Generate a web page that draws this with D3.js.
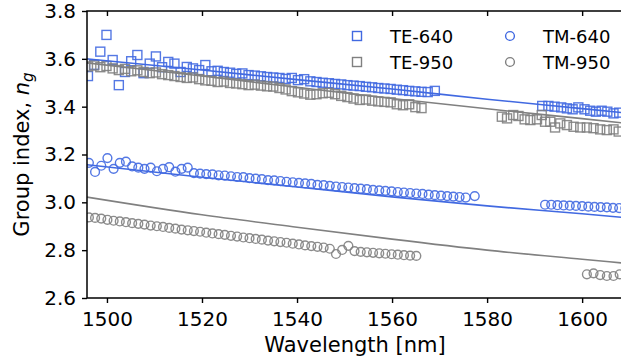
<!DOCTYPE html>
<html>
<head>
<meta charset="utf-8">
<script src="https://cdn.jsdelivr.net/npm/d3@7"></script>
<style>
  body { margin: 0; background: #fff; }
  text { font-family: 'DejaVu Sans', sans-serif; fill: #000; }
</style>
</head>
<body>
<script>
// measured group index, TE and TM, two widths
const te640Wl = [1496.0,1497.3,1498.6,1499.9,1501.2,1502.5,1503.8,1505.1,1506.4,1507.7,1509.0,1510.3,1511.6,1512.9,1514.2,1515.5,1516.8,1518.1,1519.4,1520.7,1522.0,1523.3,1524.6,1525.9,1527.2,1528.5,1529.8,1531.1,1532.4,1533.7,1535.0,1536.3,1537.6,1538.9,1540.2,1541.5,1542.8,1544.1,1545.4,1546.7,1548.0,1549.3,1550.6,1551.9,1553.2,1554.5,1555.8,1557.1,1558.4,1559.7,1561.0,1562.3,1563.6,1564.9,1566.2,1567.5,1569.0,
  1591.6,1592.9,1594.2,1595.6,1596.8,1598.0,1599.2,1600.5,1601.7,1602.9,1604.1,1605.3,1606.6,1607.8];
const te640Ng = [3.528,3.575,3.630,3.700,3.595,3.490,3.545,3.590,3.616,3.540,3.580,3.610,3.565,3.587,3.580,3.545,3.566,3.560,3.553,3.574,3.548,3.550,3.545,3.542,3.537,3.539,3.532,3.530,3.527,3.524,3.522,3.520,3.516,3.520,3.511,3.515,3.506,3.503,3.500,3.498,3.495,3.493,3.490,3.488,3.486,3.483,3.481,3.478,3.476,3.474,3.471,3.469,3.466,3.464,3.462,3.461,3.466,
  3.403,3.403,3.400,3.397,3.393,3.389,3.397,3.389,3.383,3.379,3.383,3.379,3.372,3.375];

const te950Wl = [1496.0,1497.3,1498.6,1499.9,1501.2,1502.5,1503.8,1505.1,1506.4,1507.7,1509.0,1510.3,1511.6,1512.9,1514.2,1515.5,1516.8,1518.1,1519.4,1520.7,1522.0,1523.3,1524.6,1525.9,1527.2,1528.5,1529.8,1531.1,1532.4,1533.7,1535.0,1536.3,1537.6,1538.9,1540.2,1541.5,1542.8,1544.1,1545.4,1546.7,1548.0,1549.3,1550.6,1551.9,1553.2,1554.5,1555.8,1557.1,1558.4,1559.7,1561.0,1562.3,1563.6,1564.9,1566.2,
  1583.1,1584.2,1585.5,1586.6,1587.9,1589.1,1590.5,1591.5,1592.2,1593.3,1594.3,1595.4,1596.8,1598.2,1599.6,1601.0,1602.4,1603.8,1605.2,1606.6,1607.7];
const te950Ng = [3.568,3.572,3.565,3.570,3.560,3.553,3.558,3.548,3.552,3.545,3.540,3.543,3.536,3.532,3.528,3.524,3.520,3.522,3.515,3.510,3.508,3.503,3.505,3.499,3.497,3.494,3.490,3.492,3.488,3.485,3.484,3.478,3.472,3.465,3.460,3.455,3.450,3.452,3.456,3.458,3.452,3.445,3.440,3.434,3.428,3.430,3.425,3.422,3.420,3.418,3.410,3.406,3.410,3.398,3.394,
  3.358,3.351,3.365,3.361,3.347,3.344,3.347,3.365,3.337,3.337,3.313,3.330,3.323,3.316,3.313,3.313,3.310,3.305,3.302,3.305,3.296];

const tm640Wl = [1496.2,1497.5,1498.8,1500.1,1501.4,1502.7,1504.0,1505.3,1506.6,1507.9,1509.2,1510.5,1511.8,1513.1,1514.4,1515.7,1517.0,1518.3,1519.6,1520.9,1522.2,1523.5,1524.8,1526.1,1527.4,1528.7,1530.0,1531.3,1532.6,1533.9,1535.2,1536.5,1537.8,1539.1,1540.4,1541.7,1543.0,1544.3,1545.6,1546.9,1548.2,1549.5,1550.8,1552.1,1553.4,1554.7,1556.0,1557.3,1558.6,1559.9,1561.2,1562.5,1563.8,1565.1,1566.4,1567.7,1569.0,1570.3,1571.6,1572.9,1574.2,1575.5,1577.4,
  1592.2,1593.5,1594.8,1596.1,1597.4,1598.7,1600.0,1601.3,1602.6,1603.9,1605.2,1606.5,1607.8,1609.1];
const tm640Ng = [3.165,3.127,3.153,3.185,3.140,3.165,3.170,3.150,3.145,3.140,3.145,3.130,3.140,3.147,3.128,3.140,3.145,3.122,3.120,3.118,3.117,3.113,3.112,3.109,3.106,3.105,3.101,3.099,3.097,3.093,3.092,3.089,3.086,3.084,3.081,3.079,3.077,3.073,3.072,3.069,3.066,3.064,3.062,3.059,3.057,3.055,3.052,3.050,3.048,3.046,3.043,3.041,3.039,3.037,3.035,3.032,3.030,3.028,3.026,3.024,3.022,3.020,3.026,
  2.990,2.990,2.988,2.987,2.986,2.985,2.984,2.982,2.981,2.980,2.979,2.977,2.976,2.975];

const tm950Wl = [1496.2,1497.5,1498.8,1500.1,1501.4,1502.7,1504.0,1505.3,1506.6,1507.9,1509.2,1510.5,1511.8,1513.1,1514.4,1515.7,1517.0,1518.3,1519.6,1520.9,1522.2,1523.5,1524.8,1526.1,1527.4,1528.7,1530.0,1531.3,1532.6,1533.9,1535.2,1536.5,1537.8,1539.1,1540.4,1541.7,1543.0,1544.3,1545.6,1546.9,1548.2,1549.5,1550.8,1552.1,1553.4,1554.7,1556.0,1557.3,1558.6,1559.9,1561.2,1562.5,1563.8,1565.1,
  1601.0,1602.4,1603.8,1605.2,1606.6,1607.9];
const tm950Ng = [2.937,2.935,2.932,2.927,2.923,2.920,2.917,2.913,2.910,2.907,2.903,2.900,2.897,2.893,2.890,2.886,2.883,2.880,2.877,2.873,2.870,2.867,2.864,2.860,2.857,2.853,2.850,2.847,2.844,2.840,2.837,2.834,2.831,2.827,2.824,2.820,2.817,2.814,2.811,2.806,2.784,2.801,2.818,2.796,2.793,2.791,2.789,2.787,2.785,2.783,2.781,2.779,2.777,2.776,
  2.699,2.703,2.696,2.692,2.692,2.699];

// fitted curves
const fitWl = [1495.8, 1520, 1540, 1560, 1580, 1600, 1608.6];
const te640Fit = [3.600, 3.553, 3.513, 3.474, 3.431, 3.392, 3.375];
const te950Fit = [3.583, 3.528, 3.481, 3.434, 3.391, 3.350, 3.332];
const tm640Fit = [3.157, 3.105, 3.064, 3.023, 2.985, 2.952, 2.937];
const tm950Fit = [3.022, 2.948, 2.896, 2.846, 2.800, 2.762, 2.746];

const xTicks = [1500, 1520, 1540, 1560, 1580, 1600];
const yTicks = [2.6, 2.8, 3.0, 3.2, 3.4, 3.6, 3.8];
const legendLabels = ['TE-640', 'TE-950', 'TM-640', 'TM-950'];

const w = 621;
const h = 362;
const pLeft = 87, pRight = 623, pTop = 11, pBottom = 298;
const blue = '#4169e1';
const grey = '#808080';

const xScale = d3.scaleLinear().domain([1495.8, 1608.6]).range([pLeft, pRight]);
const yScale = d3.scaleLinear().domain([2.6, 3.8]).range([pBottom, pTop]);

const svg = d3.select('body')
  .append('svg')
  .attr('width', w)
  .attr('height', h);

svg.append('clipPath').attr('id', 'plot')
  .append('rect')
  .attr('x', pLeft).attr('y', pTop)
  .attr('width', pRight - pLeft).attr('height', pBottom - pTop);

const plot = svg.append('g').attr('clip-path', 'url(#plot)');

function squares(wl, ng, color) {
  plot.append('g').selectAll('rect')
    .data(d3.zip(wl, ng))
    .enter()
    .append('rect')
    .attr('x', d => xScale(d[0]) - 4.5)
    .attr('y', d => yScale(d[1]) - 4.5)
    .attr('width', 9)
    .attr('height', 9)
    .attr('fill', 'none')
    .attr('stroke', color)
    .attr('stroke-width', 1.4)
    .attr('stroke-opacity', 0.9);
}

function circles(wl, ng, color) {
  plot.append('g').selectAll('circle')
    .data(d3.zip(wl, ng))
    .enter()
    .append('circle')
    .attr('cx', d => xScale(d[0]))
    .attr('cy', d => yScale(d[1]))
    .attr('r', 4.4)
    .attr('fill', 'none')
    .attr('stroke', color)
    .attr('stroke-width', 1.4)
    .attr('stroke-opacity', 0.9);
}

squares(te640Wl, te640Ng, blue);
squares(te950Wl, te950Ng, grey);
circles(tm640Wl, tm640Ng, blue);
circles(tm950Wl, tm950Ng, grey);

const line = d3.line()
  .x(d => xScale(d[0]))
  .y(d => yScale(d[1]))
  .curve(d3.curveMonotoneX);

[[te640Fit, blue], [te950Fit, grey], [tm640Fit, blue], [tm950Fit, grey]].forEach(f => {
  plot.append('path')
    .datum(d3.zip(fitWl, f[0]))
    .attr('d', line)
    .attr('fill', 'none')
    .attr('stroke', f[1])
    .attr('stroke-width', 1.6);
});

// axes
const xAxis = d3.axisBottom(xScale).tickValues(xTicks).tickFormat(d3.format('d'))
  .tickSize(5).tickSizeOuter(0).tickPadding(9);
const yAxis = d3.axisLeft(yScale).tickValues(yTicks).tickFormat(d3.format('.1f'))
  .tickSize(5).tickSizeOuter(0).tickPadding(6);
const xTop = d3.axisBottom(xScale).tickValues(xTicks).tickFormat('')
  .tickSize(5).tickSizeOuter(0);

const gx = svg.append('g')
  .attr('transform', 'translate(0,' + pBottom + ')')
  .call(xAxis);
const gy = svg.append('g')
  .attr('transform', 'translate(' + pLeft + ',0)')
  .call(yAxis);
const gt = svg.append('g')
  .attr('transform', 'translate(0,' + pTop + ')')
  .call(xTop);

[gx, gy, gt].forEach(g => {
  g.select('.domain').remove();
  g.selectAll('line').attr('stroke', '#000').attr('stroke-width', 1.4);
  g.selectAll('text').attr('font-size', 20).attr('font-family', 'DejaVu Sans').attr('fill', '#000');
});

// spines
svg.append('path')
  .attr('d', 'M' + pRight + ',' + pTop + 'H' + pLeft + 'V' + pBottom + 'H' + pRight)
  .attr('fill', 'none')
  .attr('stroke', '#000')
  .attr('stroke-width', 1.5);

svg.append('text')
  .attr('x', (pLeft + pRight) / 2)
  .attr('y', 352)
  .attr('text-anchor', 'middle')
  .attr('font-size', 21)
  .text('Wavelength [nm]');

const ylab = svg.append('text')
  .attr('transform', 'translate(29,' + (pTop + pBottom) / 2 + ') rotate(-90)')
  .attr('text-anchor', 'middle')
  .attr('font-size', 21);
ylab.append('tspan').text('Group index, ');
ylab.append('tspan').attr('font-style', 'italic').text('n');
ylab.append('tspan').attr('font-style', 'italic').attr('font-size', 15).attr('dy', 4).text('g');

// legend
const legendPos = [[357, 36], [357, 62], [510, 36], [510, 62]];
const legendColor = [blue, grey, blue, grey];
legendLabels.forEach((lab, i) => {
  const p = legendPos[i];
  if (i < 2) {
    svg.append('rect')
      .attr('x', p[0] - 4.5).attr('y', p[1] - 4.5)
      .attr('width', 9).attr('height', 9)
      .attr('fill', 'none').attr('stroke', legendColor[i]).attr('stroke-width', 1.4);
  } else {
    svg.append('circle')
      .attr('cx', p[0]).attr('cy', p[1]).attr('r', 4.4)
      .attr('fill', 'none').attr('stroke', legendColor[i]).attr('stroke-width', 1.4);
  }
  svg.append('text')
    .attr('x', p[0] + 33)
    .attr('y', p[1] + 6.5)
    .attr('font-size', 18)
    .text(lab);
});
</script>
</body>
</html>
